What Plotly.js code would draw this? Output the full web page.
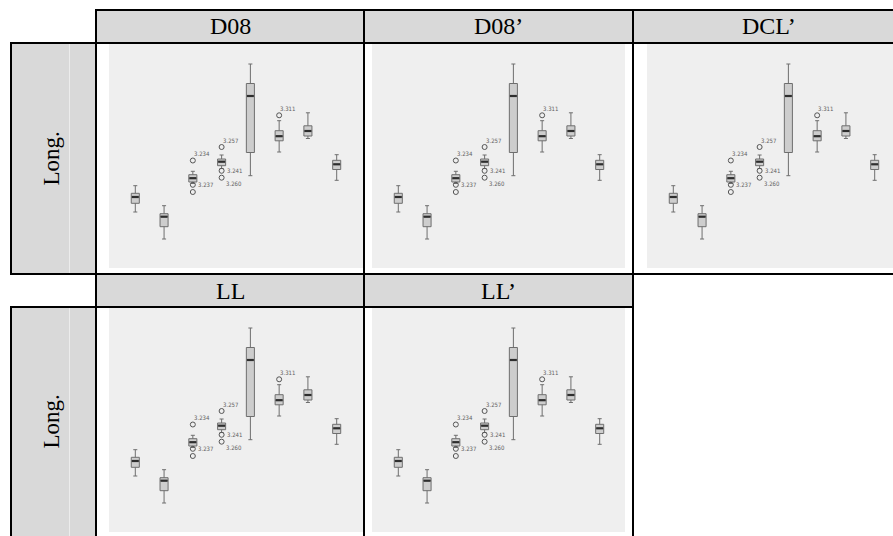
<!DOCTYPE html>
<html><head><meta charset="utf-8">
<script src="https://cdn.plot.ly/plotly-3.0.1.min.js"></script>
<style>html,body{margin:0;padding:0;background:#fff}#chart{width:893px;height:536px}</style>
</head><body><div id="chart"></div>
<script>
// ---- data (same SPSS box plot repeated in every panel) ----
const groups      = [1, 2, 3, 4, 5, 6, 7, 8];
const upperFence  = [82.3, 62.3, 96.7, 113.0, 204.0, 147.3, 155.2, 113.3];
const q3          = [74.7, 54.3, 93.3, 109.0, 184.5, 137.3, 142.2, 107.7];
const median      = [71.0, 51.3, 89.8, 106.3, 172.0, 131.8, 137.0, 103.7];
const q1          = [64.7, 41.3, 86.0, 102.3, 115.5, 127.2, 132.0, 98.5];
const lowerFence  = [56.0, 29.0, 84.5, 99.5, 92.3, 116.0, 129.5, 87.7];
const outlierGroup = [3, 3, 3, 4, 4, 4, 6];
const outlierValue = [107.5, 83.2, 76.0, 121.0, 97.2, 90.3, 152.7];
const outlierLabel = ['3.234', '3.237', '', '3.257', '3.241', '3.260', '3.311'];
const panelTitles = ['D08', 'D08’', 'DCL’', 'LL', 'LL’'];
const rowLabels   = ['Long.', 'Long.'];

// ---- layout helpers (pixel geometry of the table) ----
const W = 893, H = 536;
const px = v => v / W, py = v => 1 - v / H;
const labelPlace = ['above', 'right', 'none', 'above', 'right', 'belowright', 'above'];
const panels = [
  {x0:109, x1:363, y0:44,  y1:268},
  {x0:372, x1:625, y0:44,  y1:268},
  {x0:647, x1:893, y0:44,  y1:268},
  {x0:109, x1:363, y0:308, y1:532},
  {x0:372, x1:625, y0:308, y1:532}
];
const headers = [
  {x0:96,  x1:364, y0:10,  y1:43,  tx:230},
  {x0:364, x1:633, y0:10,  y1:43,  tx:498.5},
  {x0:633, x1:893, y0:10,  y1:43,  tx:769},
  {x0:96,  x1:364, y0:274, y1:307, tx:230},
  {x0:364, x1:633, y0:274, y1:307, tx:498.5}
];
const pxPerUnit = 28.77, xStart = 0.086;
const boxW = 0.28;

const traces = [];
const layout = {
  width: W, height: H, margin: {l:0, r:0, t:0, b:0},
  paper_bgcolor: '#ffffff', plot_bgcolor: '#efefef',
  showlegend: false, shapes: [], annotations: []
};

panels.forEach((p, i) => {
  const n = i + 1, xa = 'x' + (n === 1 ? '' : n), ya = 'y' + (n === 1 ? '' : n);
  const xk = 'xaxis' + (n === 1 ? '' : n), yk = 'yaxis' + (n === 1 ? '' : n);
  layout[xk] = {domain: [px(p.x0), px(p.x1)], range: [xStart, xStart + (p.x1 - p.x0) / pxPerUnit],
    showgrid:false, zeroline:false, showline:false, showticklabels:false, ticks:'', fixedrange:true, anchor: ya};
  layout[yk] = {domain: [py(p.y1), py(p.y0)], range: [0, p.y1 - p.y0],
    showgrid:false, zeroline:false, showline:false, showticklabels:false, ticks:'', fixedrange:true, anchor: xa};

  traces.push({
    type: 'box', xaxis: xa, yaxis: ya, x: groups,
    q1: q1, median: median, q3: q3, lowerfence: lowerFence, upperfence: upperFence,
    width: boxW, whiskerwidth: 0.5, boxpoints: false,
    fillcolor: '#cdcdcd', line: {color: '#6e6e6e', width: 1}, hoverinfo: 'skip'
  });
  // thick median bars
  const mx = [], my = [];
  groups.forEach((g, k) => { mx.push(g - boxW / 2 + 0.02, g + boxW / 2 - 0.02, null); my.push(median[k], median[k], null); });
  traces.push({type:'scatter', mode:'lines', xaxis: xa, yaxis: ya, x: mx, y: my,
    line: {color: '#2e2e2e', width: 2.2}, hoverinfo: 'skip'});
  // outliers
  traces.push({type:'scatter', mode:'markers', xaxis: xa, yaxis: ya, x: outlierGroup, y: outlierValue,
    marker: {symbol: 'circle-open', size: 5, color: '#555555', line: {width: 1, color: '#555555'}}, hoverinfo: 'skip'});
  outlierLabel.forEach((t, k) => {
    if (!t) return;
    const place = labelPlace[k];
    let xs = -1, ys = 7;
    if (place === 'right') { xs = 3; ys = 0; }
    if (place === 'belowright') { xs = 2; ys = -6; }
    layout.annotations.push({xref: xa, yref: ya, x: outlierGroup[k], y: outlierValue[k], text: t,
      showarrow: false, xanchor: 'left', yanchor: 'middle', xshift: xs, yshift: ys,
      font: {family: 'Liberation Sans Narrow, DejaVu Sans Condensed, sans-serif', size: 6, color: '#606060'}});
  });
});

// header cells and row label cells
headers.forEach((h, i) => {
  layout.shapes.push({type:'rect', xref:'paper', yref:'paper', x0:px(h.x0), x1:px(h.x1), y0:py(h.y1), y1:py(h.y0),
    fillcolor:'#d9d9d9', line:{width:0}, layer:'below'});
  layout.annotations.push({xref:'paper', yref:'paper', x:px(h.tx), y:py((h.y0 + h.y1) / 2), text: panelTitles[i],
    showarrow:false, xanchor:'center', yanchor:'middle',
    font:{family:'Liberation Serif, Times New Roman, serif', size:24, color:'#000'}});
});
const rowCells = [{y0:43, y1:274}, {y0:307, y1:536}];
rowCells.forEach((r, i) => {
  layout.shapes.push({type:'rect', xref:'paper', yref:'paper', x0:px(11), x1:px(96), y0:py(r.y1), y1:py(r.y0),
    fillcolor:'#d9d9d9', line:{width:0}, layer:'below'});
  layout.shapes.push({type:'line', xref:'paper', yref:'paper', x0:px(69.5), x1:px(69.5), y0:py(r.y1), y1:py(r.y0),
    line:{color:'#ececec', width:1}});
  layout.annotations.push({xref:'paper', yref:'paper', x:px(51), y:py((r.y0 + r.y1) / 2), text: rowLabels[i],
    textangle:-90, showarrow:false, xanchor:'center', yanchor:'middle',
    font:{family:'Liberation Serif, Times New Roman, serif', size:23, color:'#000'}});
});

// table borders
const hLines = [[10, 96, 893], [43, 11, 893], [274, 11, 893], [307, 11, 633]];
const vLines = [[11, 43, 274], [11, 307, 536], [96, 10, 536], [364, 10, 536], [633, 10, 536]];
hLines.forEach(l => layout.shapes.push({type:'line', xref:'paper', yref:'paper',
  x0:px(l[1] - 1), x1:px(l[2]), y0:py(l[0]), y1:py(l[0]), line:{color:'#000', width:2}}));
vLines.forEach(l => layout.shapes.push({type:'line', xref:'paper', yref:'paper',
  x0:px(l[0]), x1:px(l[0]), y0:py(l[1] - 1), y1:py(l[2]), line:{color:'#000', width:2}}));

Plotly.newPlot('chart', traces, layout, {staticPlot: true, displayModeBar: false});
</script>
</body></html>
